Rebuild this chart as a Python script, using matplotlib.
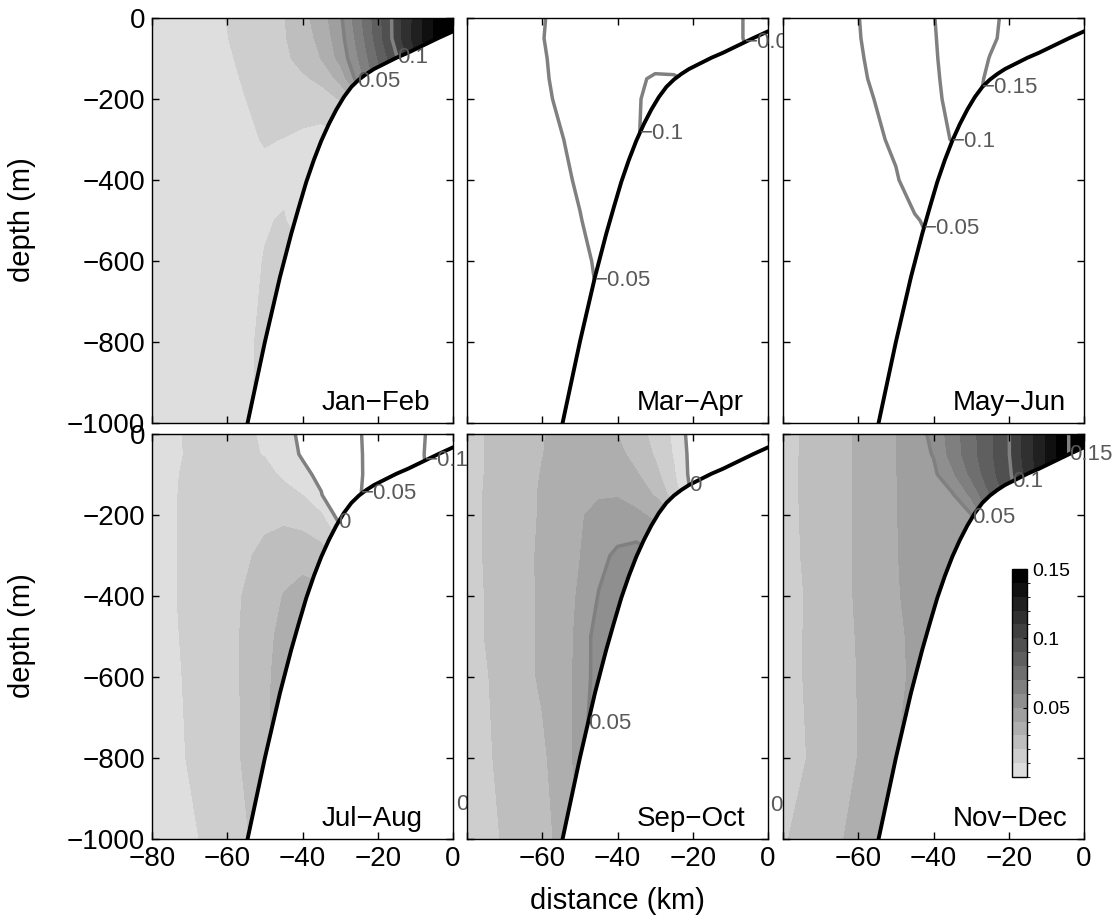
import numpy as np
import matplotlib
matplotlib.use('Agg')
import matplotlib.pyplot as plt
from matplotlib.colors import ListedColormap, BoundaryNorm
import matplotlib.cm as cm

plt.rcParams['font.family'] = ['Liberation Sans', 'DejaVu Sans']

# grid of the section
dist = [-80, -70, -60, -50, -45, -40, -35, -30, -25, -20, -15, -10, -5, 0]
depth = [0, -50, -100, -150, -200, -300, -400, -500, -600, -800, -1000]

# bottom profile
bathy_x = [-54.6, -50, -46, -43, -41, -39, -37, -35, -33, -31, -29, -27, -25, -23, -21, -18, -15, -12, -8, -4, 0]
bathy_z = [-1000, -800, -640, -533, -468, -405, -351, -303, -262, -226, -195, -170, -152, -138, -126, -112, -98, -86, -68, -50, -33]

# one row per depth, one column per distance
jan_feb = [
    [0.005, 0.006, 0.0102, 0.0166, 0.0195, 0.0265, 0.0356, 0.048, 0.067, 0.086, 0.105, 0.123, 0.141, 0.148],
    [0.005, 0.006, 0.0098, 0.0155, 0.019, 0.025, 0.033, 0.046, 0.064, 0.085, 0.105, 0.124, 0.141, 0.148],
    [0.005, 0.006, 0.009, 0.0145, 0.018, 0.023, 0.0302, 0.043, 0.0605, 0.080, 0.099, 0.118, 0.135, 0.145],
    [0.005, 0.006, 0.0085, 0.013, 0.016, 0.0185, 0.022, 0.0332, 0.055, 0.075, 0.095, 0.115, 0.132, 0.142],
    [0.004, 0.005, 0.008, 0.012, 0.014, 0.015, 0.016, 0.0205, 0.035, 0.052, 0.070, 0.090, 0.110, 0.125],
    [0.004, 0.005, 0.007, 0.0105, 0.0098, 0.008, 0.006, 0.008, 0.011, 0.021, 0.041, 0.061, 0.081, 0.098],
    [0.004, 0.005, 0.006, 0.008, 0.0085, 0.008, 0.008, 0.008, 0.008, 0.011, 0.021, 0.031, 0.041, 0.048],
    [0.004, 0.005, 0.006, 0.0095, 0.0105, 0.006, 0.006, 0.006, 0.006, 0.006, 0.006, 0.006, 0.006, 0.006],
    [0.004, 0.005, 0.006, 0.0103, 0.011, 0.011, 0.011, 0.011, 0.011, 0.011, 0.011, 0.011, 0.011, 0.011],
    [0.004, 0.005, 0.006, 0.0115, 0.012, 0.012, 0.012, 0.012, 0.012, 0.012, 0.012, 0.012, 0.012, 0.012],
    [0.004, 0.005, 0.0055, 0.012, 0.012, 0.012, 0.012, 0.012, 0.012, 0.012, 0.012, 0.012, 0.012, 0.012],
]

mar_apr = [
    [-0.03, -0.04, -0.049, -0.06, -0.065, -0.07, -0.075, -0.08, -0.08, -0.075, -0.07, -0.06, -0.045, -0.035],
    [-0.03, -0.04, -0.0495, -0.06, -0.066, -0.071, -0.077, -0.083, -0.083, -0.08, -0.072, -0.06, -0.045, -0.035],
    [-0.03, -0.04, -0.0485, -0.06, -0.066, -0.072, -0.08, -0.088, -0.088, -0.085, -0.08, -0.065, -0.051, -0.04],
    [-0.03, -0.04, -0.048, -0.059, -0.066, -0.085, -0.095, -0.104, -0.103, -0.095, -0.085, -0.07, -0.055, -0.045],
    [-0.03, -0.04, -0.047, -0.058, -0.068, -0.09, -0.098, -0.106, -0.101, -0.095, -0.085, -0.07, -0.055, -0.045],
    [-0.028, -0.036, -0.042, -0.056, -0.07, -0.092, -0.099, -0.105, -0.098, -0.09, -0.08, -0.07, -0.06, -0.055],
    [-0.025, -0.032, -0.038, -0.053, -0.062, -0.07, -0.07, -0.07, -0.07, -0.07, -0.065, -0.06, -0.055, -0.052],
    [-0.022, -0.029, -0.035, -0.049, -0.058, -0.06, -0.06, -0.06, -0.06, -0.06, -0.06, -0.06, -0.06, -0.06],
    [-0.02, -0.026, -0.032, -0.045, -0.053, -0.055, -0.055, -0.055, -0.055, -0.055, -0.055, -0.055, -0.055, -0.055],
    [-0.018, -0.023, -0.028, -0.042, -0.048, -0.052, -0.052, -0.052, -0.052, -0.052, -0.052, -0.052, -0.052, -0.052],
    [-0.016, -0.02, -0.025, -0.04, -0.045, -0.048, -0.048, -0.048, -0.048, -0.048, -0.048, -0.048, -0.048, -0.048],
]

may_jun = [
    [-0.02, -0.035, -0.0495, -0.065, -0.082, -0.099, -0.112, -0.127, -0.143, -0.157, -0.165, -0.17, -0.175, -0.18],
    [-0.02, -0.035, -0.049, -0.063, -0.08, -0.098, -0.111, -0.128, -0.145, -0.158, -0.165, -0.17, -0.175, -0.18],
    [-0.02, -0.034, -0.048, -0.061, -0.079, -0.097, -0.11, -0.135, -0.151, -0.16, -0.165, -0.17, -0.175, -0.18],
    [-0.02, -0.033, -0.047, -0.059, -0.077, -0.096, -0.108, -0.14, -0.155, -0.16, -0.165, -0.17, -0.175, -0.18],
    [-0.02, -0.032, -0.045, -0.057, -0.075, -0.095, -0.106, -0.145, -0.155, -0.16, -0.165, -0.17, -0.175, -0.18],
    [-0.02, -0.03, -0.04, -0.054, -0.073, -0.093, -0.101, -0.12, -0.13, -0.14, -0.145, -0.148, -0.148, -0.148],
    [-0.02, -0.028, -0.035, -0.048, -0.06, -0.075, -0.08, -0.09, -0.095, -0.11, -0.12, -0.13, -0.14, -0.145],
    [-0.018, -0.025, -0.03, -0.042, -0.048, -0.055, -0.06, -0.06, -0.06, -0.06, -0.06, -0.06, -0.06, -0.06],
    [-0.018, -0.024, -0.028, -0.038, -0.045, -0.048, -0.048, -0.048, -0.048, -0.048, -0.048, -0.048, -0.048, -0.048],
    [-0.018, -0.022, -0.025, -0.03, -0.035, -0.04, -0.04, -0.04, -0.04, -0.04, -0.04, -0.04, -0.04, -0.04],
    [-0.016, -0.02, -0.022, -0.027, -0.032, -0.035, -0.035, -0.035, -0.035, -0.035, -0.035, -0.035, -0.035, -0.035],
]

jul_aug = [
    [0.006, 0.011, 0.013, 0.009, 0.004, -0.0025, -0.020, -0.035, -0.048, -0.062, -0.077, -0.092, -0.107, -0.12],
    [0.006, 0.0108, 0.0135, 0.0095, 0.005, -0.0012, -0.015, -0.032, -0.047, -0.063, -0.078, -0.093, -0.108, -0.12],
    [0.006, 0.0115, 0.015, 0.0125, 0.0085, 0.003, -0.003, -0.025, -0.047, -0.062, -0.077, -0.092, -0.107, -0.12],
    [0.006, 0.0118, 0.016, 0.016, 0.013, 0.0098, 0.0006, -0.015, -0.048, -0.065, -0.08, -0.095, -0.11, -0.12],
    [0.006, 0.012, 0.016, 0.018, 0.018, 0.016, 0.011, -0.005, -0.03, -0.06, -0.08, -0.095, -0.11, -0.12],
    [0.006, 0.012, 0.016, 0.022, 0.025, 0.026, 0.024, 0.015, -0.003, -0.03, -0.06, -0.09, -0.11, -0.12],
    [0.006, 0.012, 0.0178, 0.0235, 0.0305, 0.034, 0.033, 0.031, 0.031, 0.031, 0.031, 0.031, 0.031, 0.031],
    [0.006, 0.0115, 0.0166, 0.027, 0.033, 0.035, 0.035, 0.035, 0.035, 0.035, 0.035, 0.035, 0.035, 0.035],
    [0.006, 0.011, 0.016, 0.028, 0.034, 0.035, 0.035, 0.035, 0.035, 0.035, 0.035, 0.035, 0.035, 0.035],
    [0.0065, 0.0104, 0.015, 0.029, 0.033, 0.033, 0.033, 0.033, 0.033, 0.033, 0.033, 0.033, 0.033, 0.033],
    [0.007, 0.009, 0.013, 0.025, 0.028, 0.028, 0.028, 0.028, 0.028, 0.028, 0.028, 0.028, 0.028, 0.028],
]

sep_oct = [
    [0.0175, 0.023, 0.0295, 0.035, 0.036, 0.0299, 0.024, 0.017, 0.008, -0.005, -0.015, -0.02, -0.025, -0.03],
    [0.0175, 0.023, 0.0298, 0.035, 0.037, 0.033, 0.026, 0.019, 0.009, -0.004, -0.012, -0.02, -0.025, -0.03],
    [0.0175, 0.023, 0.0305, 0.036, 0.038, 0.036, 0.031, 0.023, 0.011, -0.004, -0.01, -0.02, -0.025, -0.03],
    [0.0175, 0.0235, 0.031, 0.037, 0.039, 0.0395, 0.036, 0.029, 0.015, -0.002, -0.01, -0.02, -0.025, -0.03],
    [0.0175, 0.0235, 0.031, 0.039, 0.043, 0.043, 0.042, 0.038, 0.031, 0.021, 0.011, 0.002, -0.01, -0.02],
    [0.0175, 0.0235, 0.0316, 0.0398, 0.047, 0.052, 0.054, 0.051, 0.045, 0.041, 0.031, 0.021, 0.011, 0.002],
    [0.017, 0.0235, 0.0315, 0.041, 0.0505, 0.055, 0.056, 0.055, 0.052, 0.045, 0.041, 0.031, 0.021, 0.011],
    [0.017, 0.0235, 0.0314, 0.0418, 0.056, 0.058, 0.058, 0.058, 0.058, 0.056, 0.055, 0.055, 0.055, 0.055],
    [0.0165, 0.0225, 0.0315, 0.042, 0.056, 0.058, 0.058, 0.058, 0.058, 0.058, 0.058, 0.058, 0.058, 0.058],
    [0.0145, 0.0225, 0.028, 0.043, 0.065, 0.065, 0.065, 0.065, 0.065, 0.065, 0.065, 0.065, 0.065, 0.065],
    [0.013, 0.021, 0.026, 0.04, 0.06, 0.06, 0.06, 0.06, 0.06, 0.06, 0.06, 0.06, 0.06, 0.06],
]

nov_dec = [
    [0.017, 0.024, 0.031, 0.0398, 0.0455, 0.0525, 0.065, 0.0765, 0.088, 0.0995, 0.1154, 0.131, 0.147, 0.163],
    [0.017, 0.024, 0.031, 0.0398, 0.046, 0.0505, 0.064, 0.076, 0.088, 0.0995, 0.115, 0.131, 0.147, 0.163],
    [0.017, 0.0245, 0.031, 0.0397, 0.045, 0.048, 0.058, 0.072, 0.086, 0.098, 0.113, 0.13, 0.147, 0.163],
    [0.0168, 0.0245, 0.031, 0.0395, 0.0445, 0.046, 0.049, 0.062, 0.08, 0.095, 0.11, 0.125, 0.14, 0.155],
    [0.0165, 0.0245, 0.031, 0.0395, 0.0445, 0.0455, 0.047, 0.0495, 0.07, 0.09, 0.105, 0.12, 0.135, 0.148],
    [0.0165, 0.024, 0.031, 0.0395, 0.043, 0.045, 0.0465, 0.048, 0.051, 0.06, 0.07, 0.08, 0.09, 0.098],
    [0.015, 0.024, 0.031, 0.039, 0.043, 0.045, 0.046, 0.047, 0.048, 0.048, 0.048, 0.048, 0.048, 0.048],
    [0.015, 0.0245, 0.0305, 0.038, 0.042, 0.044, 0.045, 0.045, 0.045, 0.045, 0.045, 0.045, 0.045, 0.045],
    [0.015, 0.0245, 0.0302, 0.038, 0.0415, 0.043, 0.043, 0.043, 0.043, 0.043, 0.043, 0.043, 0.043, 0.043],
    [0.015, 0.023, 0.0302, 0.0398, 0.042, 0.043, 0.043, 0.043, 0.043, 0.043, 0.043, 0.043, 0.043, 0.043],
    [0.019, 0.026, 0.0325, 0.039, 0.041, 0.041, 0.041, 0.041, 0.041, 0.041, 0.041, 0.041, 0.041, 0.041],
]

months = ['Jan\u2212Feb', 'Mar\u2212Apr', 'May\u2212Jun', 'Jul\u2212Aug', 'Sep\u2212Oct', 'Nov\u2212Dec']
fields = [jan_feb, mar_apr, may_jun, jul_aug, sep_oct, nov_dec]
# stray "0" labels that sit just past the right edge of two panels
stray_labels = {3: (0.8, -915), 4: (0.5, -918)}

fill_levels = np.round(np.arange(16) * 0.01, 2)
line_levels = np.round(np.arange(-4, 4) * 0.05, 2)
shades = [str(round(0.87 - 0.062 * k, 3)) for k in range(15)]
cmap = ListedColormap(shades)
cmap.set_over('0.0')

W, H = 1119, 922
fig = plt.figure(figsize=(W / 100, H / 100), dpi=100)
lefts = [152, 467, 783]
tops = [18, 434]
aw, ah = 301, 405

X, Y = np.meshgrid(dist, depth)
for i in range(6):
    row, col = i // 3, i % 3
    ax = fig.add_axes([lefts[col] / W, 1 - (tops[row] + ah) / H, aw / W, ah / H])
    Z = np.array(fields[i])
    ax.contourf(X, Y, Z, levels=fill_levels, cmap=cmap, vmin=0, vmax=0.15, extend='max', zorder=0.5)
    cs = ax.contour(X, Y, Z, levels=line_levels, colors='0.5', linewidths=2.5,
                    linestyles='solid', zorder=0.8)
    ax.fill_between(bathy_x, bathy_z, -1000, color='white', lw=0, zorder=1)
    ax.plot(bathy_x, bathy_z, color='black', lw=2.8, zorder=1.2)

    # label each contour where it meets the bottom
    for lev, segs in zip(cs.levels, cs.allsegs):
        for seg in segs:
            if len(seg) < 2:
                continue
            f = seg[:, 1] - np.interp(seg[:, 0], bathy_x, bathy_z)
            above = f > 0
            idx = np.where(above[:-1] != above[1:])[0]
            if len(idx) == 0:
                continue
            pts = []
            for j in idx:
                t = f[j] / (f[j] - f[j + 1])
                pts.append(seg[j] + t * (seg[j + 1] - seg[j]))
            p = min(pts, key=lambda q: q[1])
            txt = '%g' % round(float(lev), 2)
            txt = txt.replace('-', '\u2212')
            ax.text(p[0], p[1], txt, ha='left', va='center', color='0.35',
                    fontsize=16, clip_on=False, zorder=3)
    if i in stray_labels:
        sx, sy = stray_labels[i]
        ax.text(sx, sy, '0', ha='left', va='center', color='0.35',
                fontsize=16, clip_on=False, zorder=3)

    ax.text(-35, -950, months[i], ha='left', va='center', fontsize=20, zorder=3)

    ax.set_xlim(-80, 0)
    ax.set_ylim(-1000, 0)
    ax.set_xticks([-80, -60, -40, -20, 0])
    ax.set_yticks([-1000, -800, -600, -400, -200, 0])
    ax.tick_params(direction='in', top=True, right=True, length=5, width=1,
                   labelsize=20, pad=5)
    for s in ax.spines.values():
        s.set_linewidth(1.0)
    if row == 0:
        ax.set_xticklabels([])
    elif col > 0:
        ax.set_xticklabels(['', '\u221260', '\u221240', '\u221220', '0'])
    if col > 0:
        ax.set_yticklabels([])

fig.text(22 / W, 1 - 220 / H, 'depth (m)', rotation=90, ha='center', va='center', fontsize=21)
fig.text(22 / W, 1 - 636 / H, 'depth (m)', rotation=90, ha='center', va='center', fontsize=21)
fig.text(617 / W, 1 - 901 / H, 'distance (km)', ha='center', va='center', fontsize=21)

cax = fig.add_axes([1012 / W, 1 - 777 / H, 15 / W, 208 / H])
sm = cm.ScalarMappable(norm=BoundaryNorm(fill_levels, 15), cmap=ListedColormap(shades))
cb = fig.colorbar(sm, cax=cax, ticks=[0.05, 0.1, 0.15])
cb.set_ticklabels(['0.05', '0.1', '0.15'])
cb.ax.tick_params(labelsize=14, direction='in', length=3, pad=4)
cb.outline.set_linewidth(1.0)

fig.savefig('out.png', dpi=100)
